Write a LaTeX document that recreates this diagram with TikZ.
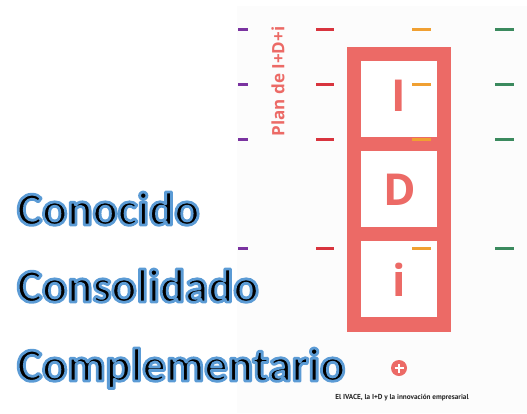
\documentclass[tikz,border=0pt]{standalone}
\usepackage{fontspec}
\setmainfont{Carlito}
\newfontfamily\boxfont{Open Sans}
\newfontfamily\notefont{PT Sans}
\definecolor{framered}{HTML}{EC6A66}
\definecolor{tickpurple}{HTML}{7A33A0}
\definecolor{tickred}{HTML}{D8343E}
\definecolor{tickorange}{HTML}{F0A032}
\definecolor{tickgreen}{HTML}{3B8A5E}
\newcommand\glowon{\special{pdf:literal direct 2 Tr 2.8 w 1 j 0.357 0.608 0.835 RG}}
\newcommand\glowoff{\special{pdf:literal direct 0 Tr 1 w 0 j 0 0 0 RG}}
\tikzset{
  rowtick/.style={line width=3pt},
  cellbox/.style={fill=white,minimum width=76pt,minimum height=76pt,inner sep=0pt},
  cellletter/.style={text=framered,font=\boxfont\bfseries\fontsize{44}{44}\selectfont,inner sep=0pt},
  bigword/.style={anchor=base west,inner sep=0pt,text=black,font=\bfseries\fontsize{47}{47}\selectfont}
}
\begin{document}
\begin{tikzpicture}[x=1pt,y=-1pt]
  \useasboundingbox (0,0) rectangle (527,413);
  \fill[black!1] (237,6) rectangle (527,413);
  % frame with the three cells
  \fill[framered] (346.5,46.7) rectangle (451,331.7);
  \node [cellbox] (cellI) at (399,98.7) {};
  \node [cellbox] (cellD) at (399,188.8) {};
  \node [cellbox] (celli) at (399,278.8) {};
  \node [cellletter] (letI) at (399,95.5) {I};
  \node [cellletter] (letD) at (400,190) {D};
  \node [cellletter] (leti) at (399,280) {i};
  % ticks
  \foreach \y in {29,84,139,248}{
    \draw [rowtick,tickpurple] (238,\y) -- (248,\y);
    \draw [rowtick,tickred] (316,\y) -- (334,\y);
    \draw [rowtick,tickorange] (412,\y) -- (431,\y);
    \draw [rowtick,tickgreen] (495,\y) -- (514,\y);
  }
  \node [rotate=90,text=framered,font=\boxfont\bfseries\fontsize{17}{17}\selectfont,inner sep=0pt] (plan) at (278,81.5) {Plan de I+D+i};
  % plus button and note
  \node [circle,fill=framered,minimum size=16pt,inner sep=0pt] (plus) at (399,368) {};
  \draw [white,line width=1.2pt] ([xshift=-4.5pt]plus.center) -- ([xshift=4.5pt]plus.center)
    ([yshift=-4.5pt]plus.center) -- ([yshift=4.5pt]plus.center);
  \node [text=black!85,font=\notefont\bfseries\fontsize{7.2}{7.2}\selectfont,inner sep=0pt] (note) at (402,398) {El IVACE, la I+D y la innovación empresarial};
  % glowing words
  \node [bigword] (conocido) at (17,225) {\glowon Conocido\glowoff};
  \node [bigword] (consolidado) at (17,302) {\glowon Consolidado\glowoff};
  \node [bigword] (complementario) at (17,381) {\glowon Complementario\glowoff};
\end{tikzpicture}
\end{document}
